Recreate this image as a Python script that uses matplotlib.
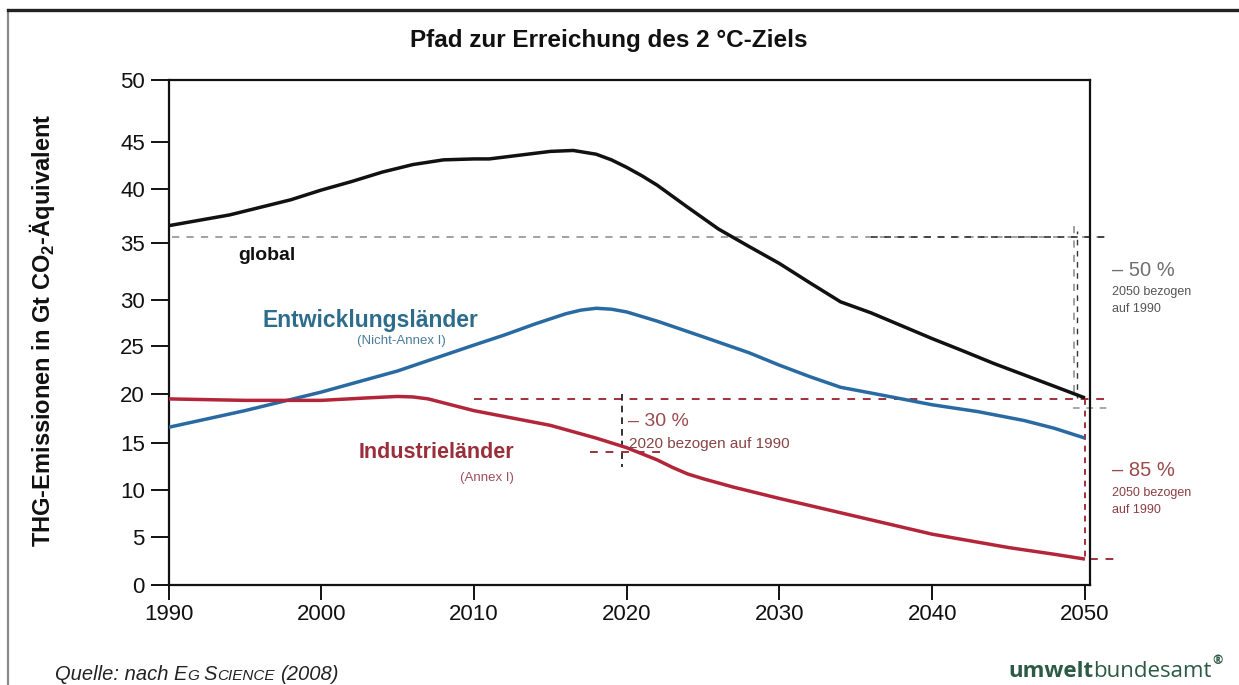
import numpy as np
import matplotlib
matplotlib.use("Agg")
import matplotlib.pyplot as plt

# ---------------- data ----------------
years_global = [1990, 1992, 1994, 1996, 1998, 2000, 2002, 2004, 2006, 2008, 2010, 2011, 2013, 2015,
                2016.5, 2018, 2019, 2020, 2021, 2022, 2024, 2026, 2028, 2030, 2032, 2034, 2036, 2038,
                2040, 2042, 2044, 2046, 2048, 2050]
global_vals = [36.6, 37.1, 37.6, 38.3, 39.0, 39.9, 40.8, 41.8, 42.6, 43.1, 43.2, 43.2, 43.6, 44.0,
               44.1, 43.7, 43.1, 42.3, 41.4, 40.4, 38.3, 36.3, 34.7, 33.2, 31.5, 29.8, 28.6, 27.2,
               25.8, 24.5, 23.2, 22.0, 20.8, 19.6]

years_dev = [1990, 1995, 2000, 2005, 2010, 2012, 2014, 2016, 2017, 2018, 2019, 2020, 2022, 2025,
             2028, 2030, 2032, 2034, 2036, 2038, 2040, 2043, 2046, 2048, 2050]
dev_vals = [16.6, 18.3, 20.2, 22.4, 25.1, 26.2, 27.4, 28.5, 28.9, 29.1, 29.0, 28.7, 27.7, 26.0,
            24.3, 23.0, 21.8, 20.7, 20.1, 19.5, 18.9, 18.2, 17.3, 16.5, 15.5]

years_ind = [1990, 1995, 2000, 2003, 2005, 2006, 2007, 2008, 2009, 2010, 2012, 2015, 2018, 2020,
             2022, 2023, 2024, 2025, 2027, 2030, 2035, 2040, 2045, 2048, 2050]
ind_vals = [19.5, 19.35, 19.35, 19.6, 19.75, 19.7, 19.5, 19.1, 18.7, 18.3, 17.7, 16.8, 15.5, 14.5,
            13.2, 12.4, 11.7, 11.2, 10.3, 9.1, 7.2, 5.3, 3.9, 3.2, 2.7]

global_ref_1990 = 35.6       # grey dashed reference level
ind_ref_1990 = 19.5          # red dashed reference level
ind_2020_level = 14.0        # short red dash at 2020

x_ticks = [1990, 2000, 2010, 2020, 2030, 2040, 2050]
y_tick_values = [0, 5, 10, 15, 20, 25, 30, 35, 40, 45, 50]
# the printed value axis is not evenly spaced: relative spacing of its tick marks
y_tick_spacing = [0, 48, 95, 142, 191, 239, 285, 342, 396, 443, 505]

# ---------------- styling ----------------
plt.rcParams["font.family"] = ["Liberation Sans", "DejaVu Sans"]
plt.rcParams["mathtext.fontset"] = "custom"
plt.rcParams["mathtext.rm"] = "Liberation Sans"
plt.rcParams["mathtext.bf"] = "Liberation Sans:bold"

W, H = 1239, 685
fig = plt.figure(figsize=(W / 100, H / 100), dpi=100)
fig.patch.set_facecolor("white")


def fx(x):
    return x / W


def fy(y):
    return 1 - y / H


ax = fig.add_axes([fx(168.5), fy(585), (1090 - 168.5) / W, (585 - 80) / H])


def fwd(v):
    return np.interp(v, y_tick_values, y_tick_spacing)


def inv(t):
    return np.interp(t, y_tick_spacing, y_tick_values)


ax.set_yscale("function", functions=(fwd, inv))
ax.set_ylim(0, 50)
ax.set_xlim(1990, 2050.33)

BLACK = "#111111"
BLUE = "#2a6aa3"
RED = "#b3263a"
DRED = "#a0303a"
GREY = "#9a9a9a"

ax.plot(years_global, global_vals, color=BLACK, lw=2.5, solid_capstyle="butt", solid_joinstyle="round", zorder=5)
ax.plot(years_dev, dev_vals, color=BLUE, lw=2.5, solid_capstyle="butt", solid_joinstyle="round", zorder=5)
ax.plot(years_ind, ind_vals, color=RED, lw=2.5, solid_capstyle="butt", solid_joinstyle="round", zorder=5)

# dashed reference lines
dash = (0, (4, 4))
ax.plot([1990.2, 2051.6], [global_ref_1990, global_ref_1990], color=GREY, lw=1.3, ls=dash, clip_on=False)
ax.plot([2036, 2051.6], [global_ref_1990, global_ref_1990], color="#333333", lw=1.2, ls=dash, clip_on=False)
ax.plot([2049.3, 2049.3], [global_vals[0], global_vals[-1]], color=GREY, lw=1.3, ls=dash, clip_on=False)
ax.plot([2049.5, 2049.5], [global_vals[0] - 0.5, global_vals[-1]], color="#333333", lw=1.0, ls=(2, (4, 4)), clip_on=False)

ax.plot([2010, 2051.7], [ind_ref_1990, ind_ref_1990], color=DRED, lw=1.4, ls=dash, clip_on=False)
ax.plot([2050, 2050], [ind_ref_1990, ind_vals[-1]], color=DRED, lw=1.4, ls=(0, (3, 3)), clip_on=False)
ax.plot([2050.3, 2052.1], [ind_vals[-1], ind_vals[-1]], color=DRED, lw=1.4, ls=dash, clip_on=False)
ax.plot([2049.2, 2051.6], [18.6, 18.6], color=GREY, lw=1.2, ls=dash, clip_on=False)

ax.plot([2019.7, 2019.7], [20.0, 12.4], color=BLACK, lw=1.2, ls=(0, (4, 3)), zorder=3)
ax.plot([2017.6, 2022.2], [ind_2020_level, ind_2020_level], color=DRED, lw=1.4, ls=dash, zorder=3)

# axes styling
for s in ax.spines.values():
    s.set_linewidth(1.6)
    s.set_color(BLACK)
ax.set_xticks(x_ticks)
ax.set_xticklabels([str(v) for v in x_ticks])
ax.set_yticks(y_tick_values)
ax.set_yticklabels([str(v) for v in y_tick_values])
ax.tick_params(axis="y", direction="out", length=13, width=1.4, pad=4, labelsize=16, colors=BLACK)
ax.tick_params(axis="x", direction="out", length=11, width=1.4, pad=3, labelsize=16, colors=BLACK)
ax.minorticks_off()

# ---------------- texts ----------------
fig.text(fx(609), fy(40), "Pfad zur Erreichung des 2 °C-Ziels", ha="center", va="center",
         fontsize=17.5, weight="bold", color=BLACK)
fig.text(fx(42), fy(330), r"THG-Emissionen in Gt CO$_\mathbf{2}$-Äquivalent", rotation=90,
         ha="center", va="center", fontsize=17, weight="bold", color=BLACK)

fig.text(fx(238), fy(256), "global", ha="left", va="center", fontsize=14, weight="bold", color=BLACK)
fig.text(fx(370), fy(320), "Entwicklungsländer", ha="center", va="center", fontsize=16.5,
         weight="bold", color="#2e6c8c")
fig.text(fx(446), fy(341), "(Nicht-Annex I)", ha="right", va="center", fontsize=9.5, color="#4b7d9a")
fig.text(fx(436), fy(453), "Industrieländer", ha="center", va="center", fontsize=15.5,
         weight="bold", color="#9a2f3b")
fig.text(fx(514), fy(478), "(Annex I)", ha="right", va="center", fontsize=9.5, color="#a0505a")

ANN_RED = "#9c4a4c"
fig.text(fx(628), fy(421), "– 30 %", ha="left", va="center", fontsize=14, color=ANN_RED)
fig.text(fx(629), fy(444), "2020 bezogen auf 1990", ha="left", va="center", fontsize=11, color="#874444")

ANN_GREY = "#707070"
fig.text(fx(1112), fy(270), "– 50 %", ha="left", va="center", fontsize=14.5, color=ANN_GREY)
fig.text(fx(1112), fy(292), "2050 bezogen", ha="left", va="center", fontsize=9, color="#555555")
fig.text(fx(1112), fy(309), "auf 1990", ha="left", va="center", fontsize=9, color="#555555")

fig.text(fx(1112), fy(470), "– 85 %", ha="left", va="center", fontsize=14.5, color=ANN_RED)
fig.text(fx(1112), fy(493), "2050 bezogen", ha="left", va="center", fontsize=9, color="#8a3f44")
fig.text(fx(1112), fy(510), "auf 1990", ha="left", va="center", fontsize=9, color="#8a3f44")

renderer = fig.canvas.get_renderer()


def seq_text(x0, ybase, pieces, color):
    x = x0
    for s, size, style, weight, fam, gap in pieces:
        x += gap
        t = fig.text(fx(x), fy(ybase), s, fontsize=size, style=style, weight=weight,
                     family=fam, va="baseline", ha="left", color=color)
        bb = t.get_window_extent(renderer)
        x = bb.x1
    return x


sans = ["Liberation Sans", "DejaVu Sans"]
seq_text(55, 680, [
    ("Quelle: nach", 14.5, "italic", "normal", sans, 0),
    ("E", 14.5, "italic", "normal", sans, 5),
    ("G", 11, "italic", "normal", sans, 0),
    ("S", 14.5, "italic", "normal", sans, 5),
    ("CIENCE", 11, "italic", "normal", sans, 0),
    ("(2008)", 14.5, "italic", "normal", sans, 5),
], "#222222")

logo = ["Open Sans", "DejaVu Sans"]
xe = seq_text(1008, 677, [
    ("umwelt", 16, "normal", "bold", logo, 0),
    ("bundesamt", 16, "normal", "normal", logo, 0),
], "#2c5a44")
fig.text(fx(xe + 1), fy(664), "®", fontsize=9, weight="bold", color="#2c5a44", ha="left", va="baseline",
         family=logo)

# outer frame
fig.add_artist(plt.Line2D([fx(8), fx(8)], [fy(685), fy(10)], color="#8a8a8a", lw=1.6))
fig.add_artist(plt.Line2D([fx(8), fx(1239)], [fy(10), fy(10)], color="#222222", lw=2.4))

fig.savefig("out.png", dpi=100, facecolor="white")
